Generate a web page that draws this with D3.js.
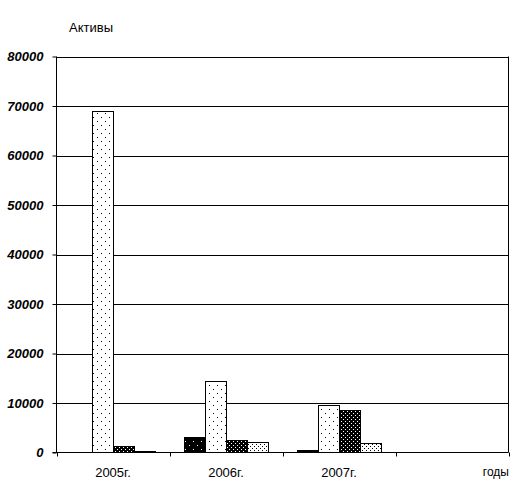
<!DOCTYPE html>
<html><head><meta charset="utf-8">
<script src="https://cdn.jsdelivr.net/npm/d3@7"></script>
<style>body{margin:0;background:#fff}svg{display:block}</style>
</head><body>
<svg id="c" width="530" height="487"></svg>
<script>
const categories = ["2005г.", "2006г.", "2007г.", ""];
const series1 = [0, 3100, 600, null];
const series2 = [69000, 14500, 9550, null];
const series3 = [1250, 2500, 8500, null];
const series4 = [300, 2100, 2000, null];
const yTicks = [0, 10000, 20000, 30000, 40000, 50000, 60000, 70000, 80000];
const yTitle = "Активы";
const xTitle = "годы";

const svg = d3.select("#c");
const m = {l: 56.5, r: 508.5, t: 56.5, b: 452.5};
const defs = svg.append("defs");
function pat(id, size, bg, fg, pts) {
  const p = defs.append("pattern").attr("id", id).attr("patternUnits", "userSpaceOnUse")
    .attr("width", size).attr("height", size);
  p.append("rect").attr("width", size).attr("height", size).attr("fill", bg);
  pts.forEach(([x, y]) => p.append("rect").attr("x", x).attr("y", y).attr("width", 1).attr("height", 1).attr("fill", fg));
}
pat("p1", 8, "#000", "#fff", [[1,1],[5,5]]);
pat("p2", 8, "#fff", "#000", [[1,1],[5,5]]);
pat("p3", 4, "#000", "#fff", [[1,1],[3,3]]);
pat("p4", 4, "#fff", "#000", [[0,0],[2,2]]);
const fills = ["url(#p1)", "url(#p2)", "url(#p3)", "url(#p4)"];
const allSeries = [series1, series2, series3, series4];

const y = d3.scaleLinear().domain([0, 80000]).range([m.b, m.t]);
const x0 = d3.scaleBand().domain(categories.map((c, i) => i)).range([m.l, m.r]).padding(0);
const x1 = d3.scaleBand().domain([0, 1, 2, 3]).range([0, x0.bandwidth()]).paddingInner(0).paddingOuter(0.69);

// gridlines
svg.append("g").selectAll("line").data(yTicks.filter(d => d > 0)).join("line")
  .attr("x1", m.l).attr("x2", m.r).attr("y1", d => Math.round(y(d)) + 0.5).attr("y2", d => Math.round(y(d)) + 0.5)
  .attr("stroke", "#000").attr("stroke-width", 1);
// right border
svg.append("line").attr("x1", m.r).attr("x2", m.r).attr("y1", m.t).attr("y2", m.b).attr("stroke", "#000");

// bars
const g = svg.append("g");
categories.forEach((c, i) => {
  allSeries.forEach((s, j) => {
    const v = s[i];
    if (v == null || v <= 0) return;
    const xx = Math.round(x0(i) + x1(j)) + 0.5;
    const w = Math.round(x1.bandwidth());
    const yy = Math.round(y(v)) + 0.5;
    g.append("rect").attr("x", xx).attr("y", yy).attr("width", w).attr("height", Math.max(0, m.b - yy))
      .attr("fill", fills[j]).attr("stroke", "#000").attr("stroke-width", 1);
  });
});

// y axis
const ya = svg.append("g").attr("transform", `translate(${m.l},0)`)
  .call(d3.axisLeft(y).tickValues(yTicks).tickSize(4).tickPadding(9).tickFormat(d3.format("d")));
ya.select(".domain").remove();
ya.append("line").attr("x1", 0).attr("x2", 0).attr("y1", m.t).attr("y2", m.b).attr("stroke", "#000");
ya.selectAll(".tick line").attr("stroke", "#000");
ya.selectAll("text").attr("font-family", "Liberation Sans, Arial, sans-serif").attr("font-size", 13)
  .attr("font-weight", "bold").attr("font-style", "italic").attr("fill", "#000");

// x axis
const xa = svg.append("g").attr("transform", `translate(0,${m.b})`);
xa.append("line").attr("x1", m.l - 4).attr("x2", m.r).attr("y1", 0).attr("y2", 0).attr("stroke", "#000");
const bounds = categories.map((c, i) => x0(i)).concat([m.r]);
xa.selectAll(".xt").data(bounds).join("line").attr("class", "xt")
  .attr("x1", d => Math.round(d) + 0.5).attr("x2", d => Math.round(d) + 0.5).attr("y1", 0).attr("y2", 4).attr("stroke", "#000");
xa.selectAll(".xl").data(categories).join("text").attr("class", "xl")
  .attr("x", (d, i) => x0(i) + x0.bandwidth() / 2).attr("y", 24).attr("text-anchor", "middle")
  .attr("font-family", "Liberation Sans, Arial, sans-serif").attr("font-size", 13).text(d => d);

svg.append("text").attr("x", 69).attr("y", 32).attr("font-family", "Liberation Sans, Arial, sans-serif")
  .attr("font-size", 13).text(yTitle);
svg.append("text").attr("x", 509).attr("y", 476).attr("text-anchor", "end").attr("font-family", "Liberation Sans, Arial, sans-serif")
  .attr("font-size", 12).text(xTitle);
</script>
</body></html>
